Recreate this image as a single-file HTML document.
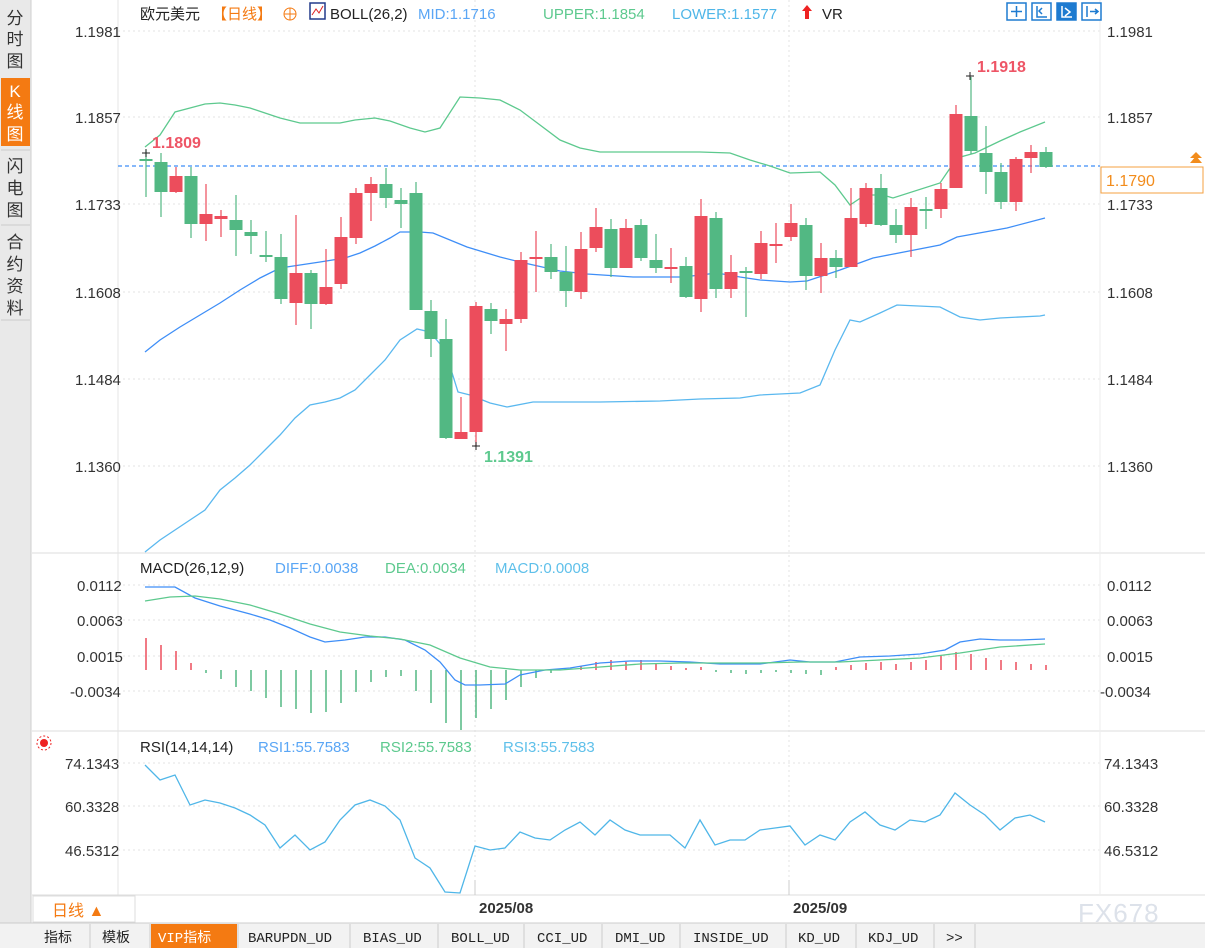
<!DOCTYPE html>
<html><head><meta charset="utf-8">
<style>
*{margin:0;padding:0;box-sizing:border-box}
body{width:1205px;height:948px;background:#fff;font-family:"Liberation Sans","Noto Sans CJK SC",sans-serif;overflow:hidden;position:relative}
svg{position:absolute;left:0;top:0}
</style></head><body>
<svg id="s" width="1205" height="948" xmlns="http://www.w3.org/2000/svg" font-family="Liberation Sans, Noto Sans CJK SC, sans-serif">
<rect x="0" y="0" width="31" height="923" fill="#e9e9e9"/>
<line x1="31" y1="0" x2="31" y2="923" stroke="#cfcfcf"/>
<rect x="1" y="78" width="29" height="68" fill="#f47a12"/>
<g font-size="17" fill="#333" text-anchor="middle">
<text x="15" y="24">分</text><text x="15" y="45">时</text><text x="15" y="67">图</text>
<text x="15" y="97" fill="#fff">K</text><text x="15" y="118" fill="#fff">线</text><text x="15" y="140" fill="#fff">图</text>
<text x="15" y="172">闪</text><text x="15" y="194">电</text><text x="15" y="216">图</text>
<text x="15" y="248">合</text><text x="15" y="270">约</text><text x="15" y="292">资</text><text x="15" y="314">料</text>
</g>
<line x1="1" y1="150" x2="30" y2="150" stroke="#ccc"/><line x1="1" y1="225" x2="30" y2="225" stroke="#ccc"/><line x1="1" y1="320" x2="30" y2="320" stroke="#ccc"/>
<g id="grid" stroke="#e3e3e3" stroke-dasharray="2,3"></g>
<line x1="32" y1="553" x2="1205" y2="553" stroke="#ddd"/>
<line x1="32" y1="731" x2="1205" y2="731" stroke="#ddd"/>
<line x1="118" y1="0" x2="118" y2="895" stroke="#e4e4e4"/>
<line x1="32" y1="895" x2="1205" y2="895" stroke="#ddd"/>
<line x1="1100" y1="0" x2="1100" y2="895" stroke="#eee"/>
<g id="plot"></g>
<g font-size="15" fill="#333">
<text x="75" y="37">1.1981</text><text x="75" y="123">1.1857</text><text x="75" y="210">1.1733</text><text x="75" y="298">1.1608</text><text x="75" y="385">1.1484</text><text x="75" y="472">1.1360</text>
<text x="1107" y="37">1.1981</text><text x="1107" y="123">1.1857</text><text x="1107" y="210">1.1733</text><text x="1107" y="298">1.1608</text><text x="1107" y="385">1.1484</text><text x="1107" y="472">1.1360</text>
<text x="77" y="591">0.0112</text><text x="77" y="626">0.0063</text><text x="77" y="662">0.0015</text><text x="70" y="697">-0.0034</text>
<text x="1107" y="591">0.0112</text><text x="1107" y="626">0.0063</text><text x="1107" y="662">0.0015</text><text x="1100" y="697">-0.0034</text>
<text x="65" y="769">74.1343</text><text x="65" y="812">60.3328</text><text x="65" y="856">46.5312</text>
<text x="1104" y="769">74.1343</text><text x="1104" y="812">60.3328</text><text x="1104" y="856">46.5312</text>
</g>
<rect x="1101" y="167" width="102" height="26" fill="#fff" stroke="#f4a040"/>
<text x="1106" y="186" font-size="16" fill="#f28c1c">1.1790</text>
<path d="M1190,163 l6,-7 l6,7z M1190,158 l6,-6 l6,6" fill="#f28c1c"/>
<g font-size="15">
<text x="140" y="19" fill="#222">欧元美元</text>
<text x="212" y="19" fill="#f47a12">【日线】</text>
<circle cx="290" cy="14" r="6" fill="none" stroke="#f47a12"/><line x1="284" y1="14" x2="296" y2="14" stroke="#f47a12"/><line x1="290" y1="8" x2="290" y2="20" stroke="#f47a12"/>
<rect x="310" y="3" width="15" height="16" fill="#fff" stroke="#223a8a" stroke-width="1.5"/><path d="M312,15 l4,-6 l3,4 l4,-7" stroke="#d22" fill="none"/>
<text x="330" y="19" fill="#222">BOLL(26,2)</text>
<text x="418" y="19" fill="#5aa6f5">MID:1.1716</text>
<text x="543" y="19" fill="#5dc98e">UPPER:1.1854</text>
<text x="672" y="19" fill="#4fb6e8">LOWER:1.1577</text>
<path d="M807,5 l-5,6 h3 v8 h4 v-8 h3z" fill="#e22"/>
<text x="822" y="19" fill="#222">VR</text>
<text x="140" y="573" fill="#222">MACD(26,12,9)</text>
<text x="275" y="573" fill="#5aa6f5">DIFF:0.0038</text>
<text x="385" y="573" fill="#5dc98e">DEA:0.0034</text>
<text x="495" y="573" fill="#5fc0ea">MACD:0.0008</text>
<text x="140" y="752" fill="#222">RSI(14,14,14)</text>
<text x="258" y="752" fill="#5aa6f5">RSI1:55.7583</text>
<text x="380" y="752" fill="#5dc98e">RSI2:55.7583</text>
<text x="503" y="752" fill="#5fc0ea">RSI3:55.7583</text>
</g>
<circle cx="44" cy="743" r="4" fill="#e22"/><circle cx="44" cy="743" r="7" fill="none" stroke="#e22" stroke-dasharray="2,2"/>
<g font-size="16" font-weight="bold">
<text x="152" y="148" fill="#ee5566">1.1809</text>
<text x="977" y="72" fill="#ee5566">1.1918</text>
<text x="484" y="462" fill="#5dc98e">1.1391</text>
</g>
<g stroke="#222"><path d="M142,153h8M146,149v8M966,76h8M970,72v8M472,446h8M476,442v8"/></g>
<g id="icons"></g>
<rect x="33" y="896" width="102" height="26" fill="#fff" stroke="#ddd"/>
<text x="52" y="916" font-size="16" fill="#f47a12">日线 ▲</text>
<line x1="475" y1="880" x2="475" y2="895" stroke="#ccc"/><line x1="789" y1="880" x2="789" y2="895" stroke="#ccc"/>
<text x="479" y="913" font-size="15" font-weight="bold" fill="#333">2025/08</text>
<text x="793" y="913" font-size="15" font-weight="bold" fill="#333">2025/09</text>
<text x="1078" y="922" font-size="26" fill="#dde2ea" letter-spacing="1">FX678</text>
<rect x="0" y="923" width="1205" height="25" fill="#f2f2f2"/>
<line x1="0" y1="923" x2="1205" y2="923" stroke="#ccc"/>
<rect x="151" y="924" width="86" height="24" fill="#f47a12"/>
<g font-size="14" fill="#222" font-family="Liberation Mono, Noto Sans CJK SC, monospace">
<text x="44" y="942">指标</text><text x="102" y="942">模板</text><text x="158" y="942" fill="#fff">VIP指标</text>
<text x="248" y="942">BARUPDN_UD</text><text x="363" y="942">BIAS_UD</text><text x="451" y="942">BOLL_UD</text>
<text x="537" y="942">CCI_UD</text><text x="615" y="942">DMI_UD</text><text x="693" y="942">INSIDE_UD</text>
<text x="798" y="942">KD_UD</text><text x="868" y="942">KDJ_UD</text><text x="946" y="942">&gt;&gt;</text>
</g>
<g stroke="#ccc"><path d="M90,924v24M150,924v24M238,924v24M350,924v24M438,924v24M524,924v24M602,924v24M680,924v24M786,924v24M856,924v24M934,924v24M975,924v24"/></g>
</svg>
<script>
const NS="http://www.w3.org/2000/svg";
const plot=document.getElementById('plot');
function el(t,a,p){const e=document.createElementNS(NS,t);for(const k in a)e.setAttribute(k,a[k]);(p||plot).appendChild(e);return e;}
// grid
const g=document.getElementById('grid');
[31,117,204,292,379,466,585,620,656,691,763,806,850].forEach(y=>el('line',{x1:118,y1:y,x2:1100,y2:y},g));
[475,789].forEach(x=>el('line',{x1:x,y1:0,x2:x,y2:895},g));
// dashed last price
el('line',{x1:118,y1:166,x2:1100,y2:166,stroke:'#3d8ef7','stroke-dasharray':'4,3','stroke-width':1.2});
function poly(pts,c,w){el('polyline',{points:pts.map(p=>p.join(',')).join(' '),fill:'none',stroke:c,'stroke-width':w||1.3});}
poly([[145,147],[160,135],[175,112],[190,108],[205,104],[220,103],[235,105],[250,108],[265,113],[280,118],[300,123],[320,123],[340,123],[355,120],[375,118],[390,121],[410,128],[425,132],[440,128],[460,97],[480,98],[500,100],[520,110],[540,125],[560,140],[580,148],[600,152],[640,152],[700,152],[730,153],[750,160],[770,166],[790,173],[820,172],[835,185],[850,205],[865,195],[883,195],[893,198],[940,183],[957,158],[975,153],[1000,141],[1020,132],[1045,122]],'#5dc98e');
poly([[145,352],[160,340],[180,327],[200,315],[220,303],[240,290],[260,278],[280,268],[300,265],[320,262],[345,258],[360,253],[375,246],[390,238],[400,232],[420,232],[433,233],[467,247],[500,257],[520,262],[560,271],[587,274],[633,277],[683,277],[717,273],[740,277],[760,280],[790,282],[807,281],[840,270],[873,258],[940,245],[957,237],[1007,228],[1045,218]],'#3e8ef7');
poly([[145,552],[160,540],[175,530],[190,520],[205,510],[220,490],[235,478],[250,465],[265,450],[280,435],[295,418],[310,405],[325,402],[340,398],[355,390],[370,375],[385,360],[400,340],[417,329],[430,332],[445,350],[458,392],[470,395],[490,403],[507,407],[533,402],[600,402],[660,401],[700,399],[740,398],[760,395],[800,393],[820,385],[835,350],[850,320],[860,322],[880,313],[897,305],[940,307],[960,317],[980,320],[1000,318],[1040,316],[1045,315]],'#5ab8ef');
// candles [x, bodyTop, bodyBot, hi, lo, up(red)]
const C=[[146,160,161,150,197,0],[161,162,192,153,217,0],[176,176,192,167,193,1],[191,176,224,167,238,0],[206,214,224,184,241,1],[221,216,219,210,237,1],[236,220,230,195,256,0],[251,232,236,220,254,0],[266,255,257,231,262,0],[281,257,299,234,304,0],[296,273,303,215,325,1],[311,273,304,270,329,0],[326,287,304,249,305,1],[341,237,284,217,289,1],[356,193,238,188,244,1],[371,184,193,177,221,1],[386,184,198,168,208,0],[401,200,204,188,228,0],[416,193,310,182,310,0],[431,311,339,300,357,0],[446,339,438,319,439,0],[461,432,439,397,439,1],[476,306,432,302,446,1],[491,309,321,303,334,0],[506,319,324,309,351,1],[521,260,319,252,323,1],[536,257,259,231,292,1],[551,257,272,244,279,0],[566,272,291,246,307,0],[581,249,292,232,299,1],[596,227,248,208,252,1],[611,229,268,219,277,0],[626,228,268,219,268,1],[641,225,258,219,261,0],[656,260,268,234,273,0],[671,267,269,248,283,1],[686,266,297,257,298,0],[701,216,299,199,312,1],[716,218,289,212,298,0],[731,272,289,255,298,1],[746,272,273,267,317,0],[761,243,274,231,279,1],[776,244,246,223,263,1],[791,223,237,204,241,1],[806,225,276,218,290,0],[821,258,276,243,293,1],[836,258,267,250,278,0],[851,218,267,188,267,1],[866,188,224,183,227,1],[881,188,225,174,226,0],[896,225,235,209,243,0],[911,207,235,198,257,1],[926,209,211,197,229,0],[941,189,209,183,218,1],[956,114,188,105,188,1],[971,116,151,77,154,0],[986,153,172,126,194,0],[1001,172,202,163,209,0],[1016,159,202,157,211,1],[1031,152,158,145,173,1],[1046,152,167,147,168,0]];
C.forEach(c=>{const col=c[5]?'#ec4d5c':'#52b883';
el('line',{x1:c[0],y1:c[3],x2:c[0],y2:c[4],stroke:col,'stroke-width':1.2});
const h=Math.max(2,c[2]-c[1]);el('rect',{x:c[0]-6.5,y:c[2]-c[1]<2?c[1]-1:c[1],width:13,height:h,fill:col});});
// MACD hist
const H=[32,25,19,7,-3,-9,-17,-21,-28,-37,-39,-43,-42,-33,-22,-12,-7,-6,-21,-33,-53,-60,-48,-39,-30,-17,-8,-3,0,4,8,10,8,10,6,4,2,3,-2,-3,-4,-3,-2,-3,-4,-5,3,5,7,8,6,8,10,15,18,16,12,10,8,6,5];
H.forEach((h,i)=>{const x=146+i*15;if(h==0)return;el('line',{x1:x,y1:670,x2:x,y2:670-h,stroke:h>0?'#ec4d5c':'#52b883','stroke-width':1.5});});
poly([[145,587],[175,587],[195,598],[220,606],[250,614],[270,620],[290,628],[310,637],[325,642],[345,640],[365,637],[385,637],[405,640],[425,650],[440,662],[455,680],[465,685],[480,685],[505,684],[520,675],[545,670],[570,668],[600,663],[630,661],[660,661],[690,662],[720,664],[760,664],[790,660],[810,662],[835,662],[860,657],[890,656],[920,654],[945,650],[960,642],[980,639],[1000,640],[1020,640],[1045,639]],'#3e8ef7');
poly([[145,601],[170,597],[195,596],[220,599],[250,605],[280,614],[310,624],[340,632],[370,636],[400,639],[430,645],[460,658],[490,667],[520,670],[560,670],[600,667],[640,664],[680,663],[720,663],[760,663],[800,662],[840,662],[880,660],[920,658],[960,653],[1000,647],[1045,644]],'#5dc98e');
poly([[145,765],[160,780],[175,775],[190,805],[205,800],[220,803],[235,808],[250,815],[265,825],[280,848],[295,835],[310,850],[325,842],[340,820],[355,805],[370,800],[385,806],[400,820],[415,858],[430,868],[445,892],[460,893],[475,846],[490,850],[505,848],[520,832],[535,838],[550,840],[565,830],[580,822],[595,835],[610,820],[625,830],[640,835],[655,835],[670,835],[685,848],[700,820],[715,845],[730,840],[745,840],[760,830],[775,828],[790,826],[805,845],[820,835],[835,840],[850,822],[865,812],[880,825],[895,830],[910,820],[925,822],[940,815],[955,793],[970,805],[985,815],[1000,830],[1015,818],[1030,815],[1045,822]],'#4fb6e8');
// toolbar icons
const ic=document.getElementById('icons');
[1007,1032,1057,1082].forEach((x,i)=>{el('rect',{x:x,y:3,width:19,height:17,fill:i==2?'#1e7bd0':'#fff',stroke:'#1e7bd0','stroke-width':1.5},ic);
el('path',{d:i==0?`M${x+9.5},6v11M${x+4},11.5h11`:i==1?`M${x+5},6v11h10M${x+10},8l-3,3l3,3`:i==2?`M${x+5},6v11h10M${x+8},8l5,4l-5,4`:`M${x+5},6v11M${x+8},11.5h8M${x+13},9l3,2.5l-3,2.5`,stroke:i==2?'#fff':'#1e7bd0',fill:'none','stroke-width':1.5},ic);});
</script>
</body></html>
